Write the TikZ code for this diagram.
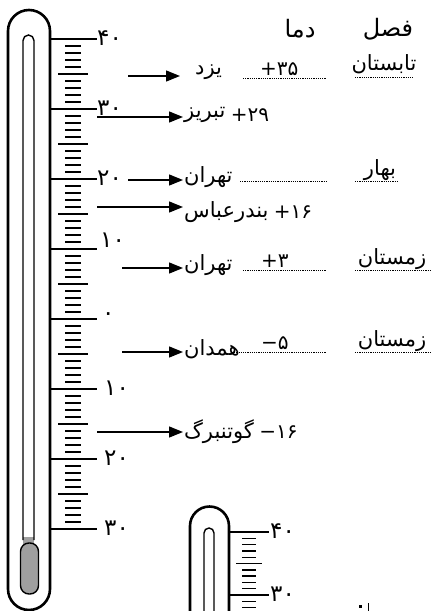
\documentclass[tikz,border=0pt]{standalone}
\usepackage{fontspec}
\newfontfamily\fa[Script=Arabic]{DejaVu Sans}
\newfontfamily\fanum{DejaVu Sans}
\TeXXeTstate=1
\usetikzlibrary{arrows.meta}
\newcommand\RL[1]{\beginR #1\endR}
\begin{document}
\begin{tikzpicture}[x=1pt,y=-1pt,
  tube/.style={line width=2.6pt},
  inner tube/.style={line width=1.4pt},
  tick/.style={line width=1.4pt},
  arr/.style={line width=1.4pt,-{Triangle[length=14pt,width=11pt]}},
  dots/.style={line width=0.9pt,dash pattern=on 1.1pt off 1.1pt},
  word/.style={font=\fa\fontsize{21}{24}\selectfont,inner sep=1pt},
  head/.style={font=\fa\fontsize{24}{27}\selectfont,inner sep=1pt},
  val/.style={font=\fanum\fontsize{20}{24}\selectfont,inner sep=0pt},
  num/.style={font=\fanum\fontsize{23}{26}\selectfont,inner sep=0pt,anchor=west},
]
\useasboundingbox (0,0) rectangle (440,611);
% ---- main thermometer
\draw[tube] (8,589) -- (8,31) arc[start angle=180,end angle=0,radius=21pt] -- (50,589) arc[start angle=0,end angle=-180,radius=21pt] -- cycle;
\fill[gray!75] (23,537) rectangle (34,546);
\draw[inner tube] (23,540) -- (23,40.5) arc[start angle=180,end angle=0,radius=5.5pt] -- (34,540);
\draw[inner tube,fill=gray!75,rounded corners=8.5pt] (20.5,543) rectangle (38.5,594);
% scale
\foreach \k in {0,...,7}{\draw[tick] (50,{39+70*\k}) -- (97,{39+70*\k});}
\foreach \k in {1,...,69}{%
  \pgfmathtruncatemacro\r{mod(\k,10)}%
  \ifnum\r=0\relax\else
    \ifnum\r=5\relax \draw[tick] (58,{39+7*\k}) -- (88,{39+7*\k});
    \else \draw[tick] (65,{39+7*\k}) -- (81,{39+7*\k});\fi
  \fi}
\node[num] (l40) at (97,38) {۴۰};
\node[num] (l30) at (97,108) {۳۰};
\node[num] (l20) at (97,178) {۲۰};
\node[num] (l10) at (100,240) {۱۰};
\node[num] (l0) at (102,317) {۰};
\node[num] (m10) at (104,388) {۱۰};
\node[num] (m20) at (104,458) {۲۰};
\node[num] (m30) at (104,528) {۳۰};
% ---- headers
\node[head] (hdama) at (300,29) {\RL{دما}};
\node[head] (hfasl) at (388,29) {\RL{فصل}};
% ---- row 1 Yazd
\coordinate (s1) at (128,76);
\node[word,anchor=west] (yazd) at (194,72) {\RL{یزد}};
\coordinate (h1) at (180,76);
\draw[arr] (s1) -- (h1);
\coordinate (d1a) at (243,78); \coordinate (d1b) at (326,78);
\draw[dots] (d1a) -- (d1b);
\node[val,anchor=base west] (t1) at (260,75) {+۳۵};
\node[word,anchor=base] (sum) at (384,70) {\RL{تابستان}};
\coordinate (e1a) at (355,77); \coordinate (e1b) at (414,77);
\draw[dots] (e1a) -- (e1b);
% ---- row 2 Tabriz
\coordinate (s2) at (97,117);
\node[word,anchor=west] (tabriz) at (183,115) {\RL{تبریز}};
\draw[arr] (s2) -- (tabriz.west |- s2);
\node[val,anchor=west] (t2) at ([xshift=4pt]tabriz.east) {+۲۹};
% ---- row 3 Tehran
\coordinate (s3) at (128,180);
\node[word,anchor=west] (teh1) at (183,177) {\RL{تهران}};
\draw[arr] (s3) -- (teh1.west |- s3);
\coordinate (d3a) at (240,181); \coordinate (d3b) at (326,181);
\draw[dots] (d3a) -- (d3b);
\node[word,anchor=base] (bahar) at (380,175) {\RL{بهار}};
\coordinate (e3a) at (355,181); \coordinate (e3b) at (398,181);
\draw[dots] (e3a) -- (e3b);
% ---- row 4 Bandar Abbas
\coordinate (s4) at (97,207);
\node[word,anchor=west] (bandar) at (183,212) {\RL{بندرعباس}};
\draw[arr] (s4) -- (bandar.west |- s4);
\node[val,anchor=west] (t4) at ([xshift=4pt]bandar.east) {+۱۶};
% ---- row 5 Tehran winter
\coordinate (s5) at (122,268);
\node[word,anchor=west] (teh2) at (183,265) {\RL{تهران}};
\draw[arr] (s5) -- (teh2.west |- s5);
\coordinate (d5a) at (243,270); \coordinate (d5b) at (326,270);
\draw[dots] (d5a) -- (d5b);
\node[val,anchor=base west] (t5) at (261,267) {+۳};
\node[word,anchor=base] (win1) at (392,264) {\RL{زمستان}};
\coordinate (e5a) at (355,270); \coordinate (e5b) at (430,270);
\draw[dots] (e5a) -- (e5b);
% ---- row 6 Hamedan
\coordinate (s6) at (122,352);
\node[word,anchor=west] (hamedan) at (183,349) {\RL{همدان}};
\draw[arr] (s6) -- (hamedan.west |- s6);
\coordinate (d6a) at (232,352); \coordinate (d6b) at (326,352);
\draw[dots] (d6a) -- (d6b);
\node[val,anchor=base west] (t6) at (261,349) {−۵};
\node[word,anchor=base] (win2) at (392,346) {\RL{زمستان}};
\coordinate (e6a) at (355,352); \coordinate (e6b) at (430,352);
\draw[dots] (e6a) -- (e6b);
% ---- row 7 Gothenburg
\coordinate (s7) at (97,432);
\node[word,anchor=west] (goth) at (183,432) {\RL{گوتنبرگ}};
\draw[arr] (s7) -- (goth.west |- s7);
\node[val,anchor=west] (t7) at ([xshift=4pt]goth.east) {−۱۶};
% ---- small thermometer
\draw[tube] (190,620) -- (190,526) arc[start angle=180,end angle=0,radius=19.5pt] -- (229,620);
\draw[inner tube] (204,620) -- (204,533) arc[start angle=180,end angle=0,radius=5pt] -- (214,620);
\foreach \k in {0,10}{\draw[tick] (229,{532+6.3*\k}) -- (269,{532+6.3*\k});}
\foreach \k in {1,...,13}{%
  \pgfmathtruncatemacro\r{mod(\k,10)}%
  \ifnum\r=0\relax\else
    \ifnum\r=5\relax \draw[tick] (236,{532+6.3*\k}) -- (262,{532+6.3*\k});
    \else \draw[tick] (242,{532+6.3*\k}) -- (256,{532+6.3*\k});\fi
  \fi}
\node[num] (n40) at (270,531) {۴۰};
\node[num] (n30) at (270,594) {۳۰};
% cut-off marks at the lower edge
\fill (359,604.5) rectangle (362,607.5);
\fill (367.5,603) rectangle (369,611);
\end{tikzpicture}
\end{document}
